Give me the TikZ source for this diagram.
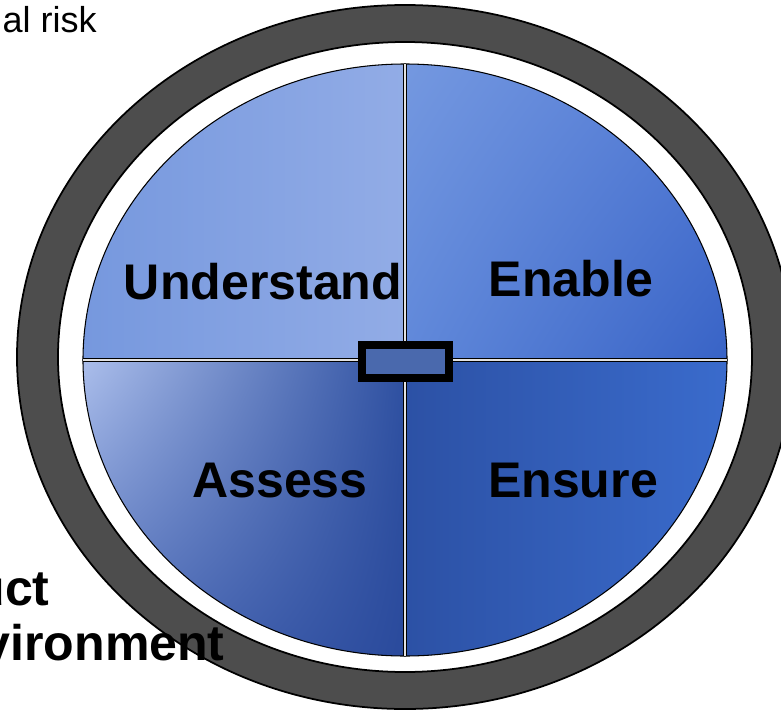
\documentclass[tikz,border=0pt]{standalone}
\usepackage{fontspec}
\setmainfont{Liberation Sans}
\usetikzlibrary{shadings}
\definecolor{ringgray}{RGB}{77,77,77}
\definecolor{hubblue}{RGB}{74,105,173}
\definecolor{splitgray}{RGB}{225,225,225}
\definecolor{ulA}{RGB}{118,152,222}
\definecolor{ulB}{RGB}{146,172,230}
\definecolor{urA}{RGB}{116,152,224}
\definecolor{urB}{RGB}{84,124,214}
\definecolor{urC}{RGB}{96,136,218}
\definecolor{urD}{RGB}{56,99,198}
\definecolor{llA}{RGB}{171,190,235}
\definecolor{llB}{RGB}{46,80,161}
\definecolor{llC}{RGB}{80,110,185}
\definecolor{llD}{RGB}{42,74,156}
\definecolor{lrA}{RGB}{44,81,165}
\definecolor{lrB}{RGB}{58,107,204}

\begin{document}
\begin{tikzpicture}[x=0.02cm,y=0.02cm,
    quad/.style={draw=black, line width=0.6pt},
    word/.style={inner sep=0pt, anchor=base, font=\fontsize{28.5}{34}\selectfont\bfseries},
    side/.style={inner sep=0pt, anchor=base east}]
    \useasboundingbox (-405,-351) rectangle (376,360);

    % outer ring
    \filldraw[fill=ringgray, draw=black, line width=1pt] (0,3) ellipse [x radius=388, y radius=352];
    \filldraw[fill=white, draw=black, line width=1pt] (0,3) ellipse [x radius=347, y radius=315];

% four quarters
\shadedraw[quad, left color=ulA, right color=ulB]
    (0,0) -- (0,296) arc[start angle=90, end angle=180, x radius=322, y radius=296] -- cycle;
\shadedraw[quad, upper left=urA, upper right=urB, lower left=urC, lower right=urD]
    (0,0) -- (322,0) arc[start angle=0, end angle=90, x radius=322, y radius=296] -- cycle;
\shadedraw[quad, upper left=llA, upper right=llB, lower left=llC, lower right=llD]
    (0,0) -- (-322,0) arc[start angle=180, end angle=270, x radius=322, y radius=296] -- cycle;
\shadedraw[quad, left color=lrA, right color=lrB]
    (0,0) -- (0,-296) arc[start angle=270, end angle=360, x radius=322, y radius=296] -- cycle;

% split lines
\draw[line width=0.6pt, double=splitgray, double distance=0.8pt] (0,296) -- (0,-296);
\draw[line width=0.6pt, double=splitgray, double distance=0.8pt] (-322,0) -- (322,0);

\node[draw=black, fill=hubblue, line width=0.16cm, minimum width=1.74cm, minimum height=0.66cm, inner sep=0pt] (hub) at (0.5,-1.5) {};

\node[word] (understand) at (-142,61) {Understand};
\node[word] (enable) at (166,64) {Enable};
\node[word] (assess) at (-125,-137) {Assess};
\node[word] (ensure) at (168,-137) {Ensure};

\node[side, font=\fontsize{20.5}{25}\selectfont] (risk) at (-308,328) {al risk};
\node[side, font=\fontsize{28.5}{34}\selectfont\bfseries] (uct) at (-355,-245) {uct};
\node[side, font=\fontsize{28.5}{34}\selectfont\bfseries] (env) at (-180,-300) {vironment};

\end{tikzpicture}
\end{document}
